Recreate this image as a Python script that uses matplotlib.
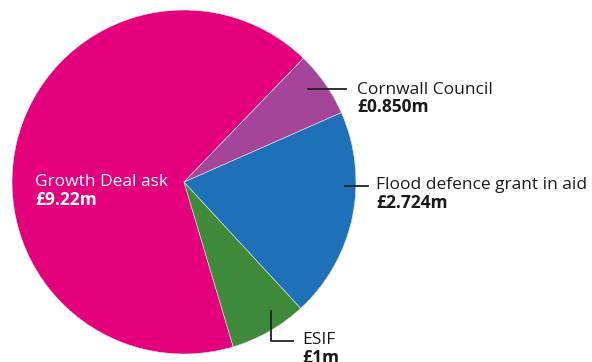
import matplotlib

matplotlib.use("Agg")
import matplotlib.pyplot as plt  # noqa: E402

plt.rcParams["font.family"] = ["Open Sans", "DejaVu Sans"]

# funding sources, in £m (pie order: counter-clockwise from the top right)
sources = ["Growth Deal ask", "ESIF", "Flood defence grant in aid", "Cornwall Council"]
amounts = [9.22, 1.0, 2.724, 0.850]
amount_labels = ["£9.22m", "£1m", "£2.724m", "£0.850m"]
colours = ["#E4007C", "#3F8A3A", "#1E71B8", "#A5459A"]

fig = plt.figure(figsize=(5.92, 3.62), dpi=100)
ax = fig.add_axes([12 / 592, 8 / 362, 344 / 592, 344 / 362])

ax.pie(amounts, colors=colours, startangle=46, counterclock=True, radius=1,
       wedgeprops={"edgecolor": "#e8e8e8", "linewidth": 0.4})
ax.set_xlim(-1, 1)
ax.set_ylim(-1, 1)
ax.set_aspect("equal")
ax.axis("off")

fs = 12.5
# Growth Deal ask - inside, white
ax.text(-0.866, -0.023, sources[0], color="white", fontsize=fs, va="baseline")
ax.text(-0.866, -0.134, amount_labels[0], color="white", fontsize=fs,
        fontweight="bold", va="baseline")

# Cornwall Council
ax.plot([0.721, 0.942], [0.541, 0.541], color="#222222", lw=1.3, clip_on=False)
ax.text(1.006, 0.512, sources[3], fontsize=fs, va="baseline", color="#1a1a1a")
ax.text(1.006, 0.407, amount_labels[3], fontsize=fs, fontweight="bold",
        va="baseline", color="#1a1a1a")

# Flood defence
ax.plot([0.936, 1.07], [-0.023, -0.023], color="#222222", lw=1.3, clip_on=False)
ax.text(1.116, -0.041, sources[2], fontsize=fs, va="baseline", color="#1a1a1a")
ax.text(1.116, -0.151, amount_labels[2], fontsize=fs, fontweight="bold",
        va="baseline", color="#1a1a1a")

# ESIF
ax.plot([0.506, 0.506, 0.634], [-0.75, -0.924, -0.924], color="#222222",
        lw=1.3, clip_on=False)
ax.text(0.686, -0.942, sources[1], fontsize=fs, va="baseline", color="#1a1a1a")
ax.text(0.686, -1.05, amount_labels[1], fontsize=fs, fontweight="bold",
        va="baseline", color="#1a1a1a")

fig.savefig("out.png", dpi=100)
